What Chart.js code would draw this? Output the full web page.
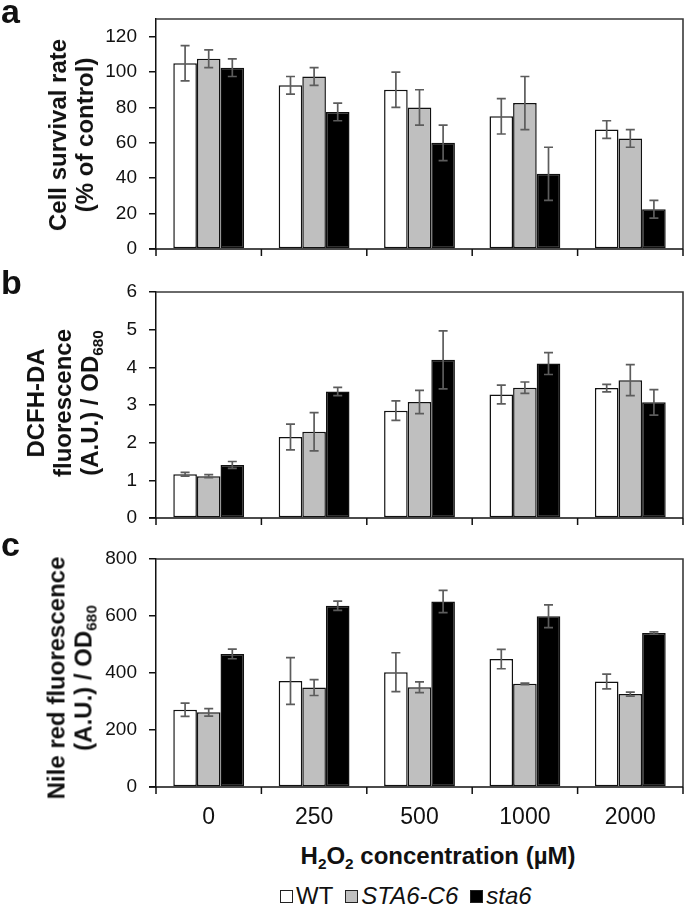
<!DOCTYPE html>
<html><head><meta charset="utf-8">
<script src="https://cdn.jsdelivr.net/npm/chart.js@4.4.1/dist/chart.umd.min.js"></script>
<style>
html,body{margin:0;padding:0;background:#fff}
body{width:685px;height:909px;overflow:hidden;position:relative;font-family:"Liberation Sans",Arial,sans-serif;color:#111}
canvas{position:absolute;left:0}
.plabel{position:absolute;font-weight:bold;font-size:34px;line-height:1}
.yt{position:absolute;font-weight:bold;font-size:24px;line-height:27px;white-space:nowrap;text-align:center;transform:translate(-50%,-50%) rotate(-90deg)}
.sub{font-size:64%;position:relative;top:0.32em}
#xt{position:absolute;left:438px;top:842px;transform:translateX(-50%);font-weight:bold;font-size:24px;white-space:nowrap}
#legend{position:absolute;left:280px;top:882px;font-size:24px;display:flex;align-items:center;white-space:nowrap}
.box{display:inline-block;width:11px;height:11px;border:1.3px solid #222;margin-right:3px}
.item{display:flex;align-items:center;margin-right:12px}
</style></head><body>
<canvas id="ca" width="685" height="295" style="top:-10px"></canvas>
<canvas id="cb" width="685" height="285" style="top:262px"></canvas>
<canvas id="cc" width="685" height="300" style="top:532px"></canvas>

<div class="plabel" style="left:1px;top:-6px">a</div>
<div class="plabel" style="left:1px;top:265px">b</div>
<div class="plabel" style="left:1px;top:527px">c</div>

<div class="yt" style="left:71px;top:135px">Cell survival rate<br>(% of control)</div>
<div class="yt" style="left:64px;top:403px">DCFH-DA<br>fluorescence<br>(A.U.) / OD<span class="sub">680</span></div>
<div class="yt" style="left:71px;top:678px">Nile red fluorescence<br>(A.U.) / OD<span class="sub">680</span></div>

<div id="xt">H<span class="sub">2</span>O<span class="sub">2</span> concentration (µM)</div>
<div id="legend">
  <span class="item"><span class="box" style="background:#fff"></span>WT</span>
  <span class="item"><span class="box" style="background:#bfbfbf"></span><i>STA6-C6</i></span>
  <span class="item"><span class="box" style="background:#000"></span><i>sta6</i></span>
</div>

<script>
// ---- data ----
const categories = ['0', '250', '500', '1000', '2000'];
const seriesNames = ['WT', 'STA6-C6', 'sta6'];

const survivalWT = [105, 92.5, 90, 75, 67.5];
const survivalWTErr = [10, 5, 10, 10, 5];
const survivalC6 = [107.5, 97.5, 80, 82.5, 62.5];
const survivalC6Err = [5, 5, 10, 15, 5];
const survivalSta6 = [102.5, 77.5, 60, 42.5, 22.5];
const survivalSta6Err = [5, 5, 10, 15, 5];
const survivalTicks = [0, 20, 40, 60, 80, 100, 120];

const dcfhWT = [1.16, 2.15, 2.85, 3.28, 3.45];
const dcfhWTErr = [0.05, 0.34, 0.26, 0.25, 0.10];
const dcfhC6 = [1.11, 2.29, 3.08, 3.46, 3.66];
const dcfhC6Err = [0.04, 0.51, 0.31, 0.15, 0.41];
const dcfhSta6 = [1.41, 3.36, 4.20, 4.10, 3.07];
const dcfhSta6Err = [0.09, 0.11, 0.77, 0.29, 0.34];
const dcfhTicks = [0, 1, 2, 3, 4, 5, 6];

const nileWT = [271, 372, 403, 449, 370];
const nileWTErr = [23, 82, 68, 34, 26];
const nileC6 = [262, 349, 350, 362, 326];
const nileC6Err = [13, 28, 19, 3, 7];
const nileSta6 = [467, 636, 651, 599, 540];
const nileSta6Err = [17, 16, 39, 40, 4];
const nileTicks = [0, 200, 400, 600, 800];

// ---- styling ----
const fills = ['#ffffff', '#bfbfbf', '#000000'];
Chart.defaults.font.family = '"Liberation Sans", Arial, sans-serif';

const errorBars = {
  id: 'errorBars',
  afterDatasetsDraw(chart) {
    const ctx = chart.ctx, ys = chart.scales.y;
    chart.data.datasets.forEach((ds, i) => {
      const meta = chart.getDatasetMeta(i);
      meta.data.forEach((bar, j) => {
        const v = ds.data[j], e = ds.errors[j];
        const yt = ys.getPixelForValue(v + e), yb = ys.getPixelForValue(v - e);
        ctx.save();
        ctx.strokeStyle = '#5c5c5c';
        ctx.lineWidth = 1.7;
        ctx.beginPath();
        ctx.moveTo(bar.x, yt); ctx.lineTo(bar.x, yb);
        ctx.moveTo(bar.x - 4.5, yt); ctx.lineTo(bar.x + 4.5, yt);
        ctx.moveTo(bar.x - 4.5, yb); ctx.lineTo(bar.x + 4.5, yb);
        ctx.stroke();
        ctx.restore();
      });
    });
  }
};

// plot frame (top/right) plus category axis line and boundary tick marks
const frame = {
  id: 'frame',
  afterDraw(chart) {
    const { left, right, top, bottom } = chart.chartArea;
    const ctx = chart.ctx, xs = chart.scales.x;
    ctx.save();
    ctx.strokeStyle = '#3a3a3a';
    ctx.lineWidth = 1.6;
    ctx.beginPath();
    ctx.moveTo(left, top); ctx.lineTo(right, top); ctx.lineTo(right, bottom);
    ctx.stroke();
    ctx.strokeStyle = '#111';
    ctx.lineWidth = 1.5;
    ctx.beginPath();
    ctx.moveTo(left - 7, bottom); ctx.lineTo(right, bottom);
    for (let i = 0; i <= categories.length; i++) {
      const px = xs.getPixelForValue(i - 0.5);
      ctx.moveTo(px, bottom); ctx.lineTo(px, bottom + 7);
    }
    ctx.stroke();
    ctx.restore();
  }
};

function makePanel(id, vals, errs, yMax, ticks, showX, padTop, xHeight) {
  return new Chart(document.getElementById(id), {
    type: 'bar',
    data: {
      labels: categories,
      datasets: vals.map((v, i) => ({
        label: seriesNames[i],
        data: v,
        errors: errs[i],
        backgroundColor: fills[i],
        borderColor: '#111',
        borderWidth: 1.5,
        borderSkipped: false,
        categoryPercentage: 0.672,
        barPercentage: 1.0
      }))
    },
    options: {
      responsive: false,
      maintainAspectRatio: false,
      animation: false,
      devicePixelRatio: 1,
      layout: { padding: { top: padTop, right: 2, bottom: 0, left: 0 } },
      plugins: { legend: { display: false }, tooltip: { enabled: false } },
      scales: {
        x: {
          offset: true,
          grid: { display: false, offset: true, drawOnChartArea: false, tickLength: 7 },
          border: { display: false },
          ticks: { display: showX, font: { size: 23 }, color: '#111', padding: 10, maxRotation: 0 },
          afterFit(s) { s.height = xHeight; }
        },
        y: {
          min: 0, max: yMax,
          afterBuildTicks(s) { s.ticks = ticks.map(v => ({ value: v })); },
          grid: { drawOnChartArea: false, drawTicks: true, tickLength: 7, color: '#111', lineWidth: 1.5 },
          border: { display: true, color: '#111', width: 1.5 },
          ticks: { font: { size: 19 }, color: '#111', padding: 12 },
          afterFit(s) { s.width = 156; }
        }
      }
    },
    plugins: [errorBars, frame]
  });
}

makePanel('ca', [survivalWT, survivalC6, survivalSta6], [survivalWTErr, survivalC6Err, survivalSta6Err], 130, survivalTicks, false, 29, 36);
makePanel('cb', [dcfhWT, dcfhC6, dcfhSta6], [dcfhWTErr, dcfhC6Err, dcfhSta6Err], 6, dcfhTicks, false, 30, 29);
makePanel('cc', [nileWT, nileC6, nileSta6], [nileWTErr, nileC6Err, nileSta6Err], 800, nileTicks, true, 27, 45);
</script>
</body></html>
